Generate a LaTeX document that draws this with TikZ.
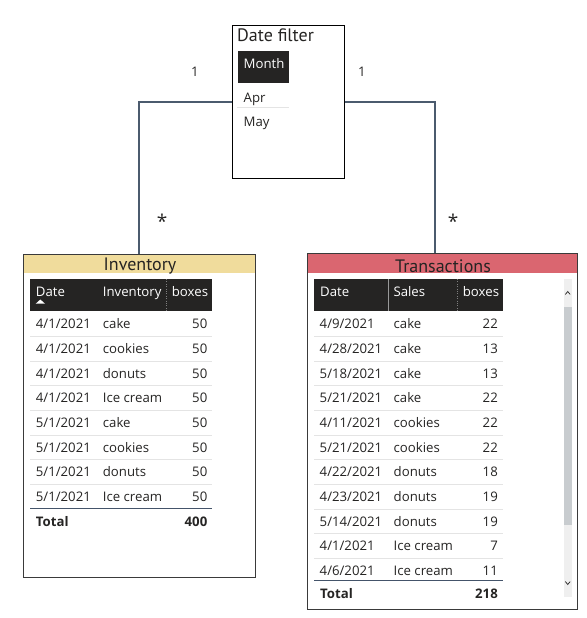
\documentclass[tikz,border=0pt]{standalone}
\usepackage{fontspec}
\setmainfont{Open Sans}
\newfontfamily\titlefont{PT Sans}
\definecolor{ink}{HTML}{252423}
\definecolor{hdr}{HTML}{252423}
\definecolor{linkc}{HTML}{4B5B6E}
\definecolor{invband}{HTML}{F0DC9C}
\definecolor{trband}{HTML}{DA6670}
\definecolor{rowgray}{HTML}{E4E4E4}
\definecolor{cardb}{HTML}{3A3A3A}
\definecolor{totline}{HTML}{44546A}
\definecolor{track}{HTML}{EFEFEF}
\definecolor{thumb}{HTML}{C8CCCF}
\begin{document}
\begin{tikzpicture}[x=1pt,y=-1pt,
  txt/.style={inner sep=0pt, yshift=-2pt, font=\fontsize{13.2}{15}\selectfont, text=ink},
  lt/.style={txt, anchor=mid west},
  rt/.style={txt, anchor=mid east},
  hd/.style={txt, anchor=mid west, text=white},
  bl/.style={txt, anchor=mid west, font=\fontsize{13.2}{15}\selectfont\bfseries},
  br/.style={txt, anchor=mid east, font=\fontsize{13.2}{15}\selectfont\bfseries},
  ttl/.style={inner sep=0pt, yshift=-2pt, font=\titlefont\fontsize{18}{20}\selectfont, text=ink},
  card/.style={draw=cardb, line width=1pt, inner sep=0pt},
  rowline/.style={draw=rowgray, line width=0.8pt},
  link/.style={draw=linkc, line width=2pt},
  mult/.style={inner sep=0pt, font=\fontsize{13.2}{15}\selectfont, text=ink},
  star/.style={inner sep=0pt, font=\fontsize{19}{21}\selectfont, text=ink}]
\useasboundingbox (0,0) rectangle (586,618);

% ---------- cards ----------
\node[card, draw=black, minimum width=112, minimum height=152] (df) at (288,102) {};
\fill[invband] (23,254) rectangle (255,273);
\node[card, minimum width=232, minimum height=323] (inv) at (139,415.5) {};
\fill[trband] (307,253) rectangle (577,273);
\node[card, minimum width=270, minimum height=356] (tr) at (442,431) {};

% ---------- connectors ----------
\draw[link] (df.west) -| (inv.north);
\draw[link] (df.east) -| ([xshift=-7pt]tr.north);
\node[mult] (one1) at (195,72) {1};
\node[mult] (one2) at (362,72) {1};
\node[star] (st1) at (162,221) {*};
\node[star] (st2) at (453,221) {*};

% ---------- date filter ----------
\node[ttl, anchor=mid west] (dft) at (237,37) {Date filter};
\node[fill=hdr, minimum width=51, minimum height=32, inner sep=0pt] (month) at (263.5,67) {};
\node[hd] (monthT) at (243.5,63.5) {Month};
\node[lt] (apr) at (243.5,97.5) {Apr};
\draw[rowline] (237,107) -- (289,107);
\node[lt] (may) at (243.5,121.5) {May};

% ---------- Inventory ----------
\node[ttl] (invt) at (140,264) {Inventory};
\fill[hdr] (30,279) rectangle (212,311);
\draw[gray, dotted] (166,279) -- (166,311);
\node[hd] (ih1) at (35.7,291.5) {Date};
\fill[white] (35.7,303.7) -- (45,303.7) -- (40.35,299.5) -- cycle;
\node[hd] (ih2) at (102.7,291.5) {Inventory};
\node[hd] (ih3) at (171.7,291.5) {boxes};
\foreach [count=\i from 0] \d/\p/\n in {{4/1/2021}/cake/50, {4/1/2021}/cookies/50, {4/1/2021}/donuts/50, {4/1/2021}/Ice cream/50, {5/1/2021}/cake/50, {5/1/2021}/cookies/50, {5/1/2021}/donuts/50, {5/1/2021}/Ice cream/50}{
  \pgfmathsetmacro{\yy}{324.3+24.63*\i}
  \node[lt] at (35.7,\yy) {\d};
  \node[lt] at (102.7,\yy) {\p};
  \node[rt] at (207.5,\yy) {\n};
  \ifnum\i<7 \draw[rowline] (30,\yy+12.3) -- (212,\yy+12.3);\fi
}
\draw[totline, line width=1pt] (30,508.7) -- (212,508.7);
\node[bl] (itot) at (35.7,521.5) {Total};
\node[br] (itotv) at (207.5,521.5) {400};

% ---------- Transactions ----------
\node[ttl] (trt) at (443,264) {Transactions};
\fill[hdr] (314,279) rectangle (503,310.5);
\draw[gray!80, line width=0.6pt] (388.3,279) -- (388.3,310.5);
\draw[gray, dotted] (457.3,279) -- (457.3,310.5);
\node[hd] (th1) at (320,291.5) {Date};
\node[hd] (th2) at (393.3,291.5) {Sales};
\node[hd] (th3) at (462.7,291.5) {boxes};
\foreach [count=\i from 0] \d/\p/\n in {{4/9/2021}/cake/22, {4/28/2021}/cake/13, {5/18/2021}/cake/13, {5/21/2021}/cake/22, {4/11/2021}/cookies/22, {5/21/2021}/cookies/22, {4/22/2021}/donuts/18, {4/23/2021}/donuts/19, {5/14/2021}/donuts/19, {4/1/2021}/Ice cream/7, {4/6/2021}/Ice cream/11}{
  \pgfmathsetmacro{\yy}{324.3+24.63*\i}
  \node[lt] at (319.5,\yy) {\d};
  \node[lt] at (393.5,\yy) {\p};
  \node[rt] at (498,\yy) {\n};
  \ifnum\i<10 \draw[rowline] (314,\yy+12.3) -- (503,\yy+12.3);\fi
}
\draw[totline, line width=1pt] (314,580.7) -- (503,580.7);
\node[bl] (ttot) at (320,594) {Total};
\node[br] (ttotv) at (498,594) {218};

% ---------- scrollbar ----------
\fill[track] (564,279) rectangle (571.5,597);
\fill[thumb] (564,306.7) rectangle (571.5,525);
\draw[ink, line width=0.7pt] (565.3,294.5) -- (567.75,291.5) -- (570.2,294.5);
\draw[ink, line width=0.7pt] (565.3,581.5) -- (567.75,584.5) -- (570.2,581.5);
\end{tikzpicture}
\end{document}
